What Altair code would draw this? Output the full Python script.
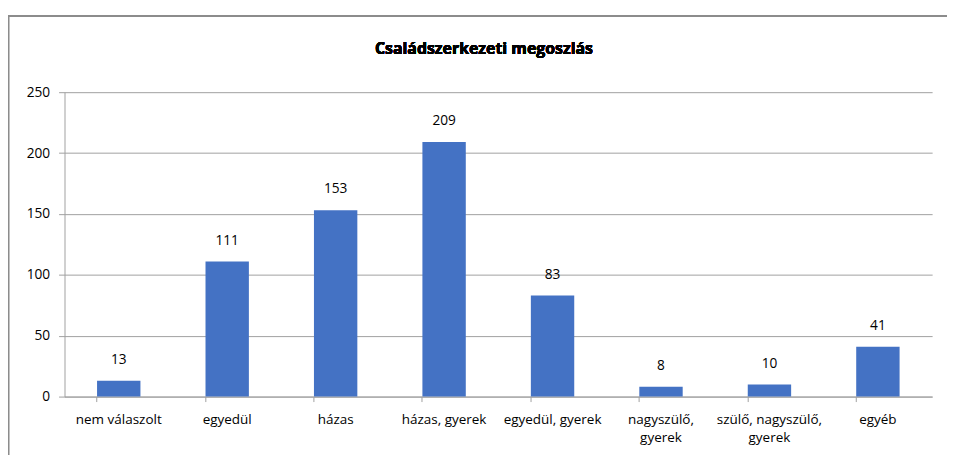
import altair as alt
import pandas as pd

categories = ["nem válaszolt", "egyedül", "házas", "házas, gyerek", "egyedül, gyerek",
              "nagyszülő, gyerek", "szülő, nagyszülő, gyerek", "egyéb"]
values = [13, 111, 153, 209, 83, 8, 10, 41]
y_ticks = [0, 50, 100, 150, 200, 250]
title_text = "Családszerkezeti megoszlás"

df = pd.DataFrame({"cat": categories, "val": values})

FONT = "Open Sans"
GRID = "#a0a0a0"

label_expr = ("datum.label == 'nagyszülő, gyerek' ? ['nagyszülő,', 'gyerek'] : "
              "datum.label == 'szülő, nagyszülő, gyerek' ? ['szülő, nagyszülő,', 'gyerek'] : datum.label")

x = alt.X("cat:N", sort=categories, title=None,
          scale=alt.Scale(paddingInner=0.6, paddingOuter=0.3),
          axis=alt.Axis(labelAngle=0, labelExpr=label_expr, tickSize=5, tickColor=GRID,
                        domainColor=GRID, labelPadding=11, labelFontSize=13.6, labelFont=FONT,
                        labelColor="#000000", labelLineHeight=18, bandPosition=0, grid=False,
                        labelOverlap=False))
y = alt.Y("val:Q", title=None, scale=alt.Scale(domain=[0, 250], nice=False),
          axis=alt.Axis(values=y_ticks, tickSize=6, tickColor=GRID, domainColor=GRID,
                        gridColor=GRID, labelPadding=9, labelFontSize=13.8, labelFont=FONT,
                        labelColor="#000000"))

bars = alt.Chart(df).mark_bar(color="#4472C4").encode(x=x, y=y)
texts = alt.Chart(df).mark_text(fontSize=13.8, font=FONT, color="#000000", baseline="middle", dy=-21).encode(
    x=alt.X("cat:N", sort=categories), y="val:Q", text="val:Q")

title = alt.Chart(df).mark_text(fontSize=16, font=FONT, fontWeight="bold", color="#000000",
                                baseline="middle", align="center").encode(
    x=alt.value(423), y=alt.value(-44), text=alt.value(title_text))

frame_top = alt.Chart(df).mark_rule(color="#8c8c8c", strokeWidth=1.2).encode(
    x=alt.value(-56.5), x2=alt.value(900), y=alt.value(-77))
frame_left = alt.Chart(df).mark_rule(color="#8c8c8c", strokeWidth=1.2).encode(
    x=alt.value(-56.5), y=alt.value(-77), y2=alt.value(370))

chart = alt.layer(frame_top, frame_left, bars, texts, title).properties(
    width=875, height=307,
    autosize=alt.AutoSizeParams(type="none"),
    padding={"left": 57, "top": 83, "right": 15, "bottom": 57},
).configure_view(stroke=None)

chart.save("out.html", embed_options={"renderer": "svg", "actions": False})
